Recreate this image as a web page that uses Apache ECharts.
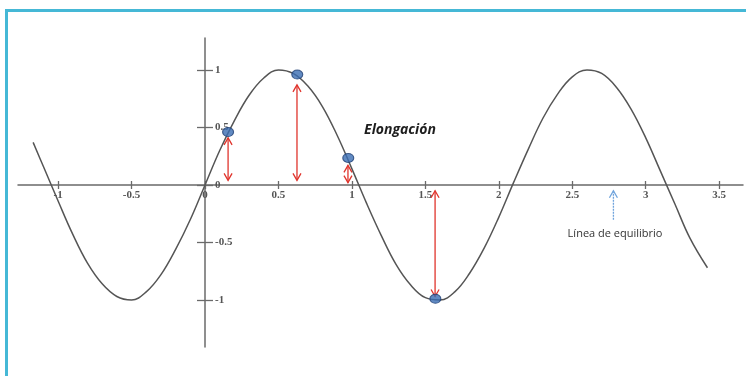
<!DOCTYPE html>
<html>
<head>
<meta charset="utf-8">
<script src="https://cdn.jsdelivr.net/npm/echarts@6/dist/echarts.min.js"></script>
<style>
  html, body { margin: 0; padding: 0; background: #fff; }
  #chart { width: 746px; height: 376px; }
</style>
</head>
<body>
<div id="chart"></div>
<script>
// tick labels
const xTicks = [-1, -0.5, 0, 0.5, 1, 1.5, 2, 2.5, 3, 3.5]
const yTicks = [-1, -0.5, 0, 0.5, 1]

// wave
const curveX = [-1.17, -1.1, -1.0, -0.9, -0.8, -0.7, -0.6, -0.5, -0.4, -0.3, -0.2, -0.1, 0,
  0.1, 0.2, 0.3, 0.4, 0.5, 0.6, 0.7, 0.8, 0.9, 1.0, 1.1, 1.2, 1.3, 1.4, 1.5, 1.6, 1.7, 1.8,
  1.9, 2.0, 2.1, 2.2, 2.3, 2.4, 2.5, 2.6, 2.7, 2.8, 2.9, 3.0, 3.1, 3.2, 3.3, 3.42]
const curveY = [0.37, 0.16, -0.14, -0.43, -0.68, -0.86, -0.97, -1.0, -0.93, -0.78, -0.56, -0.3, 0,
  0.3, 0.56, 0.78, 0.93, 1.0, 0.97, 0.86, 0.68, 0.43, 0.14, -0.16, -0.44, -0.69, -0.87, -0.98, -1.0, -0.93, -0.77,
  -0.55, -0.28, 0.02, 0.31, 0.58, 0.79, 0.94, 1.0, 0.97, 0.85, 0.66, 0.41, 0.12, -0.17, -0.46, -0.72]

// blue points on the wave
const dotX = [0.157, 0.628, 0.975, 1.568]
const dotY = [0.46, 0.96, 0.235, -0.99]

// red elongation arrows (x, top end, bottom end)
const arrowX = [0.157, 0.626, 0.973, 1.566]
const arrowTop = [0.41, 0.87, 0.17, -0.05]
const arrowBottom = [0.04, 0.04, 0.02, -0.97]

// blue equilibrium arrow
const eqX = [2.78]
const eqTop = [-0.05]
const eqBottom = [-0.31]

const labelFont = { fontFamily: 'Liberation Serif', fontSize: 11, color: '#555', fontWeight: 'bold' }
const axisColor = '#6a6a6a'

// grid: left 18, right 3, top 38, bottom 29 -> zero lines sit at x=205, y=185
const xOffset = -162
const yOffset = -187

function arrowItem(color, bothEnds, dashed) {
  return function (params, api) {
    const top = api.coord([api.value(0), api.value(1)])
    const bot = api.coord([api.value(0), api.value(2)])
    const style = { stroke: color, lineWidth: 1.3, fill: null }
    const children = [
      { type: 'line', shape: { x1: top[0], y1: top[1], x2: bot[0], y2: bot[1] },
        style: Object.assign({}, style, dashed ? { lineDash: [2, 1] } : {}) },
      { type: 'polyline', shape: { points: [[top[0] - 4, top[1] + 7], [top[0], top[1]], [top[0] + 4, top[1] + 7]] }, style: style },
    ]
    if (bothEnds) {
      children.push({ type: 'polyline', shape: { points: [[bot[0] - 4, bot[1] - 7], [bot[0], bot[1]], [bot[0] + 4, bot[1] - 7]] }, style: style })
    }
    return { type: 'group', children: children }
  }
}

const chart = echarts.init(document.getElementById('chart'), null, { renderer: 'canvas' })
chart.setOption({
  animation: false,
  backgroundColor: '#fff',
  grid: { left: 18, right: 3, top: 38, bottom: 29 },
  xAxis: [
    {
      type: 'value', min: -1.273, max: 3.662, position: 'bottom', offset: xOffset,
      axisLine: { onZero: false, lineStyle: { color: axisColor, width: 1.5 } },
      axisTick: { show: true, length: 4, customValues: xTicks, lineStyle: { color: axisColor, width: 1.3 } },
      axisLabel: Object.assign({ customValues: xTicks, margin: 5 }, labelFont),
      splitLine: { show: false },
    },
    {
      type: 'value', min: -1.273, max: 3.662, position: 'bottom', offset: xOffset,
      axisLine: { show: false, onZero: false },
      axisTick: { show: true, inside: true, length: 4, customValues: xTicks, lineStyle: { color: axisColor, width: 1.3 } },
      axisLabel: { show: false },
      splitLine: { show: false },
    },
  ],
  yAxis: [
    {
      type: 'value', min: -1.409, max: 1.278, position: 'left', offset: yOffset,
      axisLine: { onZero: false, lineStyle: { color: axisColor, width: 1.5 } },
      axisTick: { show: true, inside: true, length: 8, customValues: yTicks, lineStyle: { color: axisColor, width: 1.3 } },
      axisLabel: Object.assign({ customValues: yTicks, inside: true, margin: 10 }, labelFont),
      splitLine: { show: false },
    },
    {
      type: 'value', min: -1.409, max: 1.278, position: 'left', offset: yOffset,
      axisLine: { show: false, onZero: false },
      axisTick: { show: true, length: 8, customValues: yTicks, lineStyle: { color: axisColor, width: 1.3 } },
      axisLabel: { show: false },
      splitLine: { show: false },
    },
  ],
  series: [
    {
      type: 'line',
      data: curveX.map((x, i) => [x, curveY[i]]),
      smooth: 0.4,
      showSymbol: false,
      lineStyle: { color: '#555', width: 1.5 },
      z: 2,
    },
    {
      type: 'custom',
      data: arrowX.map((x, i) => [x, arrowTop[i], arrowBottom[i]]),
      encode: { x: 0, y: [1, 2] },
      renderItem: arrowItem('#e0342c', true, false),
      z: 3,
    },
    {
      type: 'custom',
      data: eqX.map((x, i) => [x, eqTop[i], eqBottom[i]]),
      encode: { x: 0, y: [1, 2] },
      renderItem: arrowItem('#6fa3dc', false, true),
      z: 3,
    },
    {
      type: 'scatter',
      data: dotX.map((x, i) => [x, dotY[i]]),
      symbol: 'circle',
      symbolSize: [11, 9],
      itemStyle: { color: '#3a6db3', borderColor: '#1f3f73', borderWidth: 1 },
      z: 4,
    },
  ],
  graphic: [
    { type: 'line', shape: { x1: 6.5, y1: 10.5, x2: 6.5, y2: 376 }, style: { stroke: '#45b8d6', lineWidth: 3 } },
    { type: 'line', shape: { x1: 5, y1: 10.5, x2: 746, y2: 10.5 }, style: { stroke: '#45b8d6', lineWidth: 3 } },
    {
      type: 'text', x: 400, y: 130,
      style: { text: 'Elongación', fontFamily: 'Open Sans', fontSize: 14, fontWeight: 'bold', fontStyle: 'italic',
        fill: '#1e1e1e', textAlign: 'center', textVerticalAlign: 'middle' },
    },
    {
      type: 'text', x: 615, y: 234,
      style: { text: 'Línea de equilibrio', fontFamily: 'Open Sans', fontSize: 11,
        fill: '#333', textAlign: 'center', textVerticalAlign: 'middle' },
    },
  ],
})
</script>
</body>
</html>
